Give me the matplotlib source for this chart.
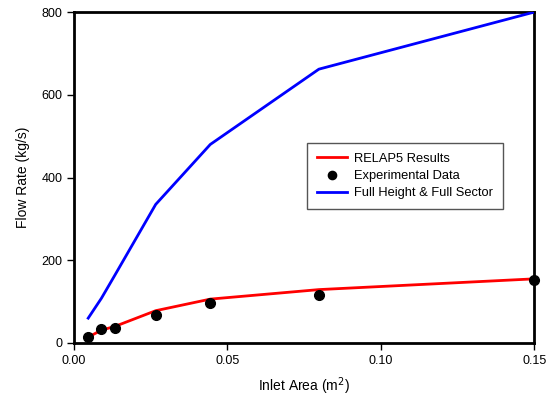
import matplotlib
matplotlib.use("Agg")
import matplotlib.pyplot as plt

plt.rcParams['font.family'] = ['Liberation Sans', 'DejaVu Sans']

inlet_area = [0.0046, 0.0089, 0.0133, 0.0266, 0.0444, 0.0798, 0.15]
relap5 = [14, 31, 40, 78, 106, 129, 155]
experimental = [14, 33, 37, 68, 97, 116, 152]
full_height = [60, 108, 164, 335, 480, 662, 800]

fig = plt.figure(figsize=(5.53, 4.03), dpi=100)
ax = fig.add_axes([0.134, 0.149, 0.832, 0.821])

ax.plot(inlet_area, relap5, color='#ff0000', lw=2, label='RELAP5 Results', zorder=3)
ax.plot(inlet_area, experimental, 'o', color='black', ms=7, label='Experimental Data', zorder=4, clip_on=False)
ax.plot(inlet_area, full_height, color='#0000ff', lw=2, label='Full Height & Full Sector', zorder=3)

ax.set_xlim(0, 0.15)
ax.set_ylim(0, 800)
ax.set_xticks([0.0, 0.05, 0.10, 0.15])
ax.set_xticklabels(['0.00', '0.05', '0.10', '0.15'])
ax.set_yticks([0, 200, 400, 600, 800])
ax.tick_params(direction='out', length=5, width=1, labelsize=9, top=False, right=False)
for s in ax.spines.values():
    s.set_linewidth(2)

ax.set_xlabel('Inlet Area (m$^2$)', fontsize=10, labelpad=6)
ax.set_ylabel('Flow Rate (kg/s)', fontsize=10, labelpad=8)

leg = ax.legend(loc='upper left', bbox_to_anchor=(0.507, 0.604), fontsize=9.3,
                frameon=True, fancybox=False, edgecolor='#555555', framealpha=1,
                handlelength=2.3, handletextpad=0.55, borderpad=0.75, labelspacing=0.4,
                borderaxespad=0, markerscale=0.85)
leg.get_frame().set_linewidth(1)

fig.savefig('out.png', dpi=100)
